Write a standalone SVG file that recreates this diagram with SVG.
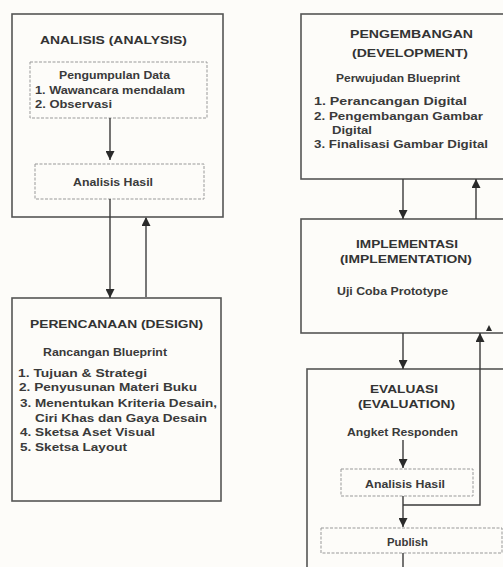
<svg xmlns="http://www.w3.org/2000/svg" width="503" height="567" viewBox="0 0 503 567">
<defs>
<marker id="ah" viewBox="0 0 10 10" refX="10" refY="5" markerWidth="9" markerHeight="9" markerUnits="userSpaceOnUse" orient="auto">
<path d="M0,0 L10,5 L0,10 z" fill="#2a2a2a"/>
</marker>
</defs>
<style>
.bg{fill:#fdfcf9}
.box{fill:#fdfcf9;stroke:#555;stroke-width:1.6}
.dbox{fill:none;stroke:#999;stroke-width:1;stroke-dasharray:3 1.5}
.con{fill:none;stroke:#3a3a3a;stroke-width:1.4}
.t{font-family:"Liberation Sans",Arial,sans-serif;font-weight:bold;fill:#3a3a3a;font-size:10.5px}
.h{font-size:11px;fill:#333}
</style>
<rect class="bg" x="0" y="0" width="503" height="567"/>

<g id="analisis">
<rect class="box" x="12" y="14" width="211" height="203"/>
<text class="t h" x="40" y="44" textLength="147" lengthAdjust="spacingAndGlyphs">ANALISIS (ANALYSIS)</text>
</g>
<g id="pengumpulan">
<rect class="dbox" x="30" y="62" width="177" height="56"/>
<text class="t" x="59" y="79" textLength="111" lengthAdjust="spacingAndGlyphs">Pengumpulan Data</text>
<text class="t" x="35" y="94" textLength="150" lengthAdjust="spacingAndGlyphs">1. Wawancara mendalam</text>
<text class="t" x="35" y="108" textLength="77" lengthAdjust="spacingAndGlyphs">2. Observasi</text>
</g>
<g id="analisis-hasil-1">
<rect class="dbox" x="35" y="164" width="169" height="35"/>
<text class="t" x="73" y="186" textLength="80" lengthAdjust="spacingAndGlyphs">Analisis Hasil</text>
</g>

<g id="perencanaan">
<rect class="box" x="12" y="298" width="209" height="203"/>
<text class="t h" x="30" y="328" textLength="173" lengthAdjust="spacingAndGlyphs">PERENCANAAN (DESIGN)</text>
<text class="t" x="43" y="356" textLength="124" lengthAdjust="spacingAndGlyphs">Rancangan Blueprint</text>
<text class="t" x="18" y="377" textLength="129" lengthAdjust="spacingAndGlyphs">1. Tujuan &amp; Strategi</text>
<text class="t" x="19" y="391" textLength="178" lengthAdjust="spacingAndGlyphs">2. Penyusunan Materi Buku</text>
<text class="t" x="20" y="407" textLength="197" lengthAdjust="spacingAndGlyphs">3. Menentukan Kriteria Desain,</text>
<text class="t" x="35" y="422" textLength="172" lengthAdjust="spacingAndGlyphs">Ciri Khas dan Gaya Desain</text>
<text class="t" x="20" y="436" textLength="135" lengthAdjust="spacingAndGlyphs">4. Sketsa Aset Visual</text>
<text class="t" x="20" y="451" textLength="107" lengthAdjust="spacingAndGlyphs">5. Sketsa Layout</text>
</g>

<g id="pengembangan">
<rect class="box" x="301" y="14" width="210" height="165"/>
<text class="t h" x="350" y="38" textLength="123" lengthAdjust="spacingAndGlyphs">PENGEMBANGAN</text>
<text class="t h" x="352" y="57" textLength="116" lengthAdjust="spacingAndGlyphs">(DEVELOPMENT)</text>
<text class="t" x="336" y="82" textLength="124" lengthAdjust="spacingAndGlyphs">Perwujudan Blueprint</text>
<text class="t" x="314" y="105" textLength="153" lengthAdjust="spacingAndGlyphs">1. Perancangan Digital</text>
<text class="t" x="314" y="120" textLength="169" lengthAdjust="spacingAndGlyphs">2. Pengembangan Gambar</text>
<text class="t" x="332" y="134" textLength="40" lengthAdjust="spacingAndGlyphs">Digital</text>
<text class="t" x="314" y="148" textLength="174" lengthAdjust="spacingAndGlyphs">3. Finalisasi Gambar Digital</text>
</g>

<g id="implementasi">
<rect class="box" x="301" y="219" width="210" height="114"/>
<text class="t h" x="356" y="248" textLength="102" lengthAdjust="spacingAndGlyphs">IMPLEMENTASI</text>
<text class="t h" x="340" y="263" textLength="132" lengthAdjust="spacingAndGlyphs">(IMPLEMENTATION)</text>
<text class="t" x="337" y="295" textLength="111" lengthAdjust="spacingAndGlyphs">Uji Coba Prototype</text>
</g>

<g id="evaluasi">
<rect class="box" x="307" y="369" width="210" height="210"/>
<text class="t h" x="370" y="393" textLength="68" lengthAdjust="spacingAndGlyphs">EVALUASI</text>
<text class="t h" x="358" y="408" textLength="97" lengthAdjust="spacingAndGlyphs">(EVALUATION)</text>
<text class="t" x="347" y="436" textLength="111" lengthAdjust="spacingAndGlyphs">Angket Responden</text>
</g>
<g id="analisis-hasil-2">
<rect class="dbox" x="341" y="469" width="132" height="27"/>
<text class="t" x="365" y="488" textLength="80" lengthAdjust="spacingAndGlyphs">Analisis Hasil</text>
</g>
<g id="publish">
<rect class="dbox" x="321" y="528" width="181" height="25"/>
<text class="t" x="387" y="546" textLength="41" lengthAdjust="spacingAndGlyphs">Publish</text>
</g>

<g id="connectors">
<line class="con" x1="110" y1="118" x2="110" y2="160" marker-end="url(#ah)"/>
<line class="con" x1="110" y1="199" x2="110" y2="298" marker-end="url(#ah)"/>
<line class="con" x1="146" y1="298" x2="146" y2="217" marker-end="url(#ah)" style="stroke:#777;stroke-width:2"/>
<line class="con" x1="403" y1="179" x2="403" y2="219" marker-end="url(#ah)"/>
<line class="con" x1="476" y1="219" x2="476" y2="179" marker-end="url(#ah)"/>
<line class="con" x1="403" y1="333" x2="403" y2="369" marker-end="url(#ah)"/>
<line class="con" x1="403" y1="440" x2="403" y2="468" marker-end="url(#ah)"/>
<line class="con" x1="403" y1="496" x2="403" y2="527" marker-end="url(#ah)"/>
<polyline class="con" points="403,505 480,505 480,333" marker-end="url(#ah)"/>
<polygon points="486,331 492,331 489,325" fill="#2a2a2a"/>
<line class="con" x1="403" y1="553" x2="403" y2="567"/>
</g>
</svg>
